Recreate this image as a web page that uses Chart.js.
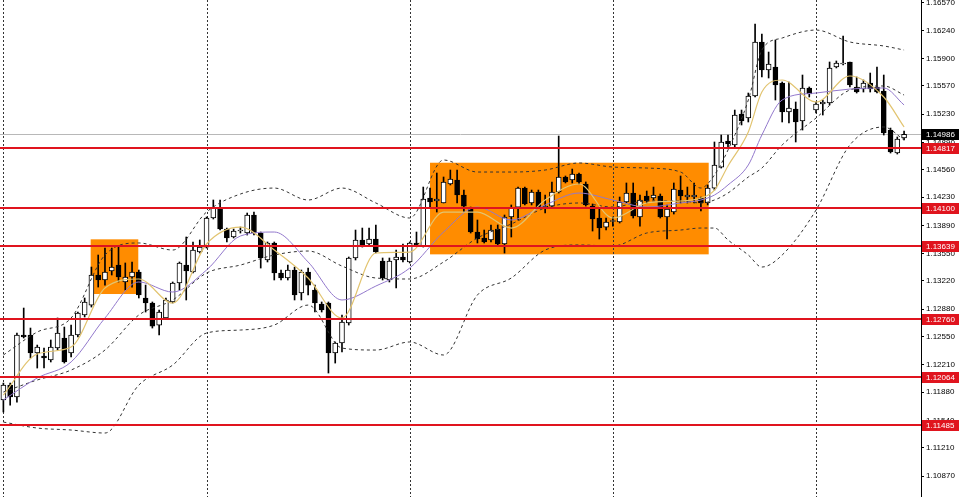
<!DOCTYPE html>
<html>
<head>
<meta charset="utf-8">
<script src="https://cdn.jsdelivr.net/npm/chart.js@4"></script>
<style>
html,body{margin:0;padding:0;background:#fff;}
#wrap{width:960px;height:497px;position:relative;}
</style>
</head>
<body>
<div id="wrap"><canvas id="c"></canvas></div>
<script>
// ---- Candles (H4 bars) ----
const opens = [1.11786,1.11966,1.11822,1.12569,1.12569,1.12352,1.12316,1.12268,1.12412,1.12533,
1.12352,1.12569,1.12810,1.12930,1.13292,1.13232,1.13340,1.13412,1.13208,1.13268,
1.13328,1.13015,1.12955,1.12689,1.12774,1.12967,1.13196,1.13412,1.13328,1.13569,
1.13629,1.13979,1.14099,1.13846,1.13750,1.13822,1.13798,1.14015,1.13798,1.13473,
1.13678,1.13316,1.13256,1.13352,1.13075,1.13328,1.13111,1.12942,1.12955,1.12352,
1.12473,1.12714,1.13497,1.13714,1.13666,1.13726,1.13461,1.13232,1.13473,1.13509,
1.13449,1.13678,1.13641,1.14220,1.14184,1.14160,1.14389,1.14437,1.14256,1.14099,
1.13810,1.13738,1.13714,1.13846,1.13666,1.13991,1.14111,1.14340,1.14160,1.14292,
1.14099,1.14123,1.14292,1.14473,1.14437,1.14509,1.14389,1.14123,1.13979,1.13870,
1.13937,1.13931,1.14172,1.14280,1.13991,1.14244,1.14220,1.14244,1.13991,1.14051,
1.14316,1.14232,1.14232,1.14220,1.14160,1.14340,1.14593,1.14907,1.14859,1.15232,
1.15184,1.15449,1.16100,1.15762,1.15799,1.15606,1.15256,1.15292,1.15148,1.15546,
1.15280,1.15353,1.15365,1.15799,1.15835,1.15859,1.15558,1.15533,1.15606,1.15558,
1.15509,1.15039,1.14762,1.14943];
const highs = [1.11990,1.11990,1.12593,1.12894,1.12653,1.12448,1.12412,1.12509,1.12774,1.12665,
1.12689,1.12846,1.13015,1.13388,1.13533,1.13617,1.13617,1.13629,1.13437,1.13449,
1.13352,1.13171,1.12967,1.12870,1.13015,1.13208,1.13449,1.13750,1.13690,1.13714,
1.13991,1.14196,1.14196,1.13858,1.13846,1.13870,1.14039,1.14051,1.13810,1.13690,
1.13690,1.13352,1.13412,1.13388,1.13352,1.13376,1.13171,1.12967,1.12967,1.12485,
1.12810,1.13509,1.13834,1.13858,1.13858,1.13895,1.13497,1.13497,1.13593,1.13666,
1.13690,1.13810,1.14352,1.14340,1.14521,1.14473,1.14557,1.14557,1.14316,1.14111,
1.13955,1.13834,1.13895,1.13895,1.14015,1.14136,1.14352,1.14352,1.14316,1.14316,
1.14256,1.14413,1.14967,1.14485,1.14569,1.14521,1.14413,1.14148,1.14087,1.13979,
1.13991,1.14232,1.14401,1.14401,1.14256,1.14304,1.14352,1.14268,1.14136,1.14401,
1.14485,1.14352,1.14401,1.14232,1.14377,1.14895,1.14979,1.14979,1.15280,1.15280,
1.15485,1.16317,1.16196,1.15979,1.16124,1.15618,1.15618,1.15377,1.15702,1.15558,
1.15377,1.15401,1.15859,1.15871,1.16172,1.15859,1.15678,1.15642,1.15726,1.15799,
1.15702,1.15063,1.14955,1.15027];
const lows = [1.11641,1.11725,1.11761,1.12533,1.12292,1.12171,1.12171,1.12244,1.12388,1.12231,
1.12304,1.12545,1.12786,1.12906,1.13147,1.13171,1.13292,1.13208,1.13111,1.13147,
1.13015,1.12846,1.12653,1.12569,1.12762,1.12955,1.13111,1.12991,1.13316,1.13557,
1.13617,1.13967,1.13834,1.13690,1.13738,1.13798,1.13774,1.13774,1.13376,1.13449,
1.13232,1.13232,1.13232,1.12991,1.12991,1.13051,1.12846,1.12846,1.12111,1.12231,
1.12364,1.12689,1.13473,1.13629,1.13654,1.13557,1.13232,1.13208,1.13135,1.13449,
1.13437,1.13641,1.13629,1.14099,1.14051,1.14160,1.14377,1.14160,1.14051,1.13798,
1.13678,1.13678,1.13690,1.13654,1.13557,1.13750,1.13955,1.14136,1.14136,1.14099,
1.14039,1.14111,1.14280,1.14401,1.14401,1.14389,1.14123,1.13822,1.13726,1.13834,
1.13882,1.13919,1.14160,1.13979,1.13882,1.14160,1.14196,1.13979,1.13726,1.14027,
1.14160,1.14160,1.14160,1.14063,1.14136,1.14316,1.14581,1.14834,1.14834,1.15100,
1.15136,1.15437,1.15678,1.15666,1.15401,1.15136,1.15124,1.14895,1.15039,1.15437,
1.15244,1.15220,1.15341,1.15787,1.15823,1.15558,1.15485,1.15497,1.15497,1.15485,
1.14979,1.14762,1.14750,1.14919];
const closes = [1.11966,1.11822,1.12569,1.12545,1.12352,1.12424,1.12292,1.12424,1.12593,1.12244,
1.12569,1.12834,1.12967,1.13292,1.13232,1.13328,1.13388,1.13268,1.13268,1.13328,
1.13051,1.12955,1.12677,1.12846,1.12991,1.13196,1.13437,1.13340,1.13593,1.13629,
1.13979,1.14099,1.13846,1.13738,1.13822,1.13834,1.14015,1.13798,1.13497,1.13678,
1.13316,1.13256,1.13352,1.13051,1.13328,1.13171,1.12955,1.12870,1.12352,1.12473,
1.12726,1.13497,1.13714,1.13654,1.13726,1.13569,1.13256,1.13461,1.13509,1.13473,
1.13678,1.13654,1.14208,1.14172,1.14208,1.14413,1.14449,1.14256,1.14123,1.13810,
1.13726,1.13690,1.13834,1.13666,1.13991,1.14099,1.14340,1.14148,1.14292,1.14111,
1.14123,1.14292,1.14473,1.14413,1.14509,1.14413,1.14136,1.13967,1.13858,1.13931,
1.13949,1.14172,1.14280,1.14003,1.14196,1.14184,1.14256,1.13991,1.14087,1.14328,
1.14244,1.14256,1.14256,1.14160,1.14340,1.14618,1.14895,1.14871,1.15220,1.15148,
1.15449,1.16100,1.15762,1.15835,1.15582,1.15256,1.15304,1.15136,1.15546,1.15473,
1.15353,1.15377,1.15787,1.15847,1.15847,1.15582,1.15497,1.15606,1.15533,1.15497,
1.15003,1.14774,1.14931,1.14986];

// ---- Indicator lines, read at these bar indices ----
const sampleIdx = [0,5,10,15,20,25,30,35,40,45,50,55,60,65,70,75,80,85,90,95,100,103,105,107,110,112,115,120,125,130,133];
const bbUpper  = [1.12328,1.12605,1.12774,1.13533,1.13678,1.13593,1.14051,1.14268,1.14340,1.14196,1.14340,1.14160,1.13979,1.14678,1.14533,1.14533,1.14557,1.14642,1.14593,1.14581,1.14533,1.14340,1.14497,1.14798,1.15401,1.16003,1.16148,1.16244,1.16100,1.16052,1.16003];
const bbMiddle = [1.11882,1.12027,1.12147,1.12388,1.12810,1.12991,1.13316,1.13412,1.13533,1.13581,1.13400,1.13256,1.13244,1.13449,1.13738,1.13907,1.14099,1.14160,1.14111,1.14184,1.14184,1.14160,1.14196,1.14280,1.14473,1.14581,1.14859,1.15184,1.15521,1.15570,1.15461];
const bbLower  = [1.11520,1.11448,1.11424,1.11388,1.11966,1.12207,1.12593,1.12629,1.12689,1.12930,1.12412,1.12388,1.12485,1.12328,1.13051,1.13256,1.13593,1.13654,1.13641,1.13798,1.13834,1.13858,1.13858,1.13714,1.13533,1.13388,1.13533,1.14075,1.14859,1.15076,1.14919];
const maFast   = [1.11846,1.12340,1.12424,1.13135,1.13244,1.12955,1.13666,1.13870,1.13593,1.13256,1.12774,1.13557,1.13569,1.14051,1.14051,1.13858,1.14196,1.14389,1.13979,1.14160,1.14184,1.14220,1.14316,1.14606,1.15015,1.15497,1.15642,1.15377,1.15690,1.15437,1.15076];
const maSlow   = [1.11786,1.12051,1.12244,1.12774,1.13208,1.13087,1.13352,1.13762,1.13810,1.13449,1.12991,1.13159,1.13376,1.13810,1.14111,1.13955,1.14136,1.14280,1.14196,1.14111,1.14160,1.14196,1.14256,1.14377,1.14618,1.14979,1.15401,1.15485,1.15533,1.15546,1.15341];

// ---- Axis / levels / zones ----
const tickLabels = ['1.16570','1.16240','1.15900','1.15570','1.15230','1.14890','1.14560','1.14230','1.13890','1.13550','1.13220','1.12880','1.12550','1.12210','1.11880','1.11540','1.11210','1.10870'];
const levels = [1.14817,1.14100,1.13639,1.12760,1.12064,1.11485];
const currentPrice = 1.14986;
const separatorBars = [0,30,60,90,120];
const zoneStart = [12.89,63.0];
const zoneEnd = [19.92,104.15];
const zoneTop = [1.13722,1.14645];
const zoneBottom = [1.13063,1.13541];
const yMin = 1.10617, yMax = 1.16606;

const N = 136;
const labels = Array.from({length:N},(_,i)=>String(i));
function sparse(vals){
  const a = new Array(N).fill(null);
  sampleIdx.forEach((k,j)=>{a[k]=vals[j];});
  return a;
}
const wickData = lows.map((l,i)=>[l,highs[i]]);
const bodyData = opens.map((o,i)=>[o,closes[i]]);
const bodyColors = opens.map((o,i)=>closes[i]>=o?'#ffffff':'#000000');
const FONT = {family:'"Liberation Sans", Arial, sans-serif', size:8};

const overlay = {
  id:'overlay',
  beforeDatasetsDraw(chart){
    const {ctx, chartArea:a, scales:{x,y}} = chart;
    ctx.save();
    ctx.beginPath(); ctx.rect(a.left,a.top,a.right-a.left,a.bottom-a.top); ctx.clip();
    ctx.fillStyle = '#ff8c00';
    for(let i=0;i<zoneStart.length;i++){
      const x1=x.getPixelForValue(zoneStart[i]), x2=x.getPixelForValue(zoneEnd[i]);
      const y1=y.getPixelForValue(zoneTop[i]), y2=y.getPixelForValue(zoneBottom[i]);
      ctx.fillRect(x1,y1,x2-x1,y2-y1);
    }
    ctx.strokeStyle = '#333'; ctx.lineWidth = 1; ctx.setLineDash([2,2]);
    separatorBars.forEach(b=>{
      const px = Math.round(x.getPixelForValue(b))+0.5;
      ctx.beginPath(); ctx.moveTo(px,a.top); ctx.lineTo(px,a.bottom); ctx.stroke();
    });
    ctx.setLineDash([]);
    ctx.strokeStyle = '#b8b8b8';
    const py = Math.round(y.getPixelForValue(currentPrice))+0.5;
    ctx.beginPath(); ctx.moveTo(a.left,py); ctx.lineTo(a.right,py); ctx.stroke();
    ctx.restore();
  },
  afterDatasetsDraw(chart){
    const {ctx, chartArea:a, scales:{y}} = chart;
    ctx.save();
    ctx.strokeStyle = '#e0141e'; ctx.lineWidth = 2;
    levels.forEach(v=>{
      const py = Math.round(y.getPixelForValue(v));
      ctx.beginPath(); ctx.moveTo(a.left,py); ctx.lineTo(a.right,py); ctx.stroke();
    });
    ctx.restore();
  },
  afterDraw(chart){
    const {ctx, chartArea:a, scales:{y}} = chart;
    ctx.save();
    ctx.font = '8px "Liberation Sans", Arial, sans-serif';
    ctx.textBaseline = 'middle'; ctx.textAlign = 'left';
    const box = (v,bg)=>{
      const py = Math.round(y.getPixelForValue(v));
      ctx.fillStyle = bg; ctx.fillRect(a.right+1, py-5, 37, 11);
      ctx.fillStyle = '#ffffff'; ctx.fillText(v.toFixed(5), a.right+5, py+0.5);
    };
    box(currentPrice,'#000000');
    levels.forEach(v=>box(v,'#e0141e'));
    ctx.restore();
  }
};

new Chart(document.getElementById('c'), {
  type:'bar',
  data:{
    labels,
    datasets:[
      {type:'bar', data:wickData, backgroundColor:'#000', barThickness:1, grouped:false, order:5},
      {type:'bar', data:bodyData, backgroundColor:bodyColors, borderColor:'#000', borderWidth:1, borderSkipped:false, barThickness:5, grouped:false, order:4},
      {type:'line', data:sparse(bbUpper), borderColor:'#333', borderWidth:1, borderDash:[3,3], pointRadius:0, spanGaps:true, cubicInterpolationMode:'monotone', order:3},
      {type:'line', data:sparse(bbMiddle), borderColor:'#333', borderWidth:1, borderDash:[3,3], pointRadius:0, spanGaps:true, cubicInterpolationMode:'monotone', order:3},
      {type:'line', data:sparse(bbLower), borderColor:'#333', borderWidth:1, borderDash:[3,3], pointRadius:0, spanGaps:true, cubicInterpolationMode:'monotone', order:3},
      {type:'line', data:sparse(maSlow), borderColor:'#9278cc', borderWidth:1, pointRadius:0, spanGaps:true, cubicInterpolationMode:'monotone', order:2},
      {type:'line', data:sparse(maFast), borderColor:'#e2c470', borderWidth:1.2, pointRadius:0, spanGaps:true, cubicInterpolationMode:'monotone', order:1}
    ]
  },
  options:{
    responsive:true, maintainAspectRatio:false, animation:false,
    layout:{padding:0},
    plugins:{legend:{display:false}, tooltip:{enabled:false}},
    scales:{
      x:{display:false, offset:true, grid:{display:false}},
      y:{
        position:'right', min:yMin, max:yMax,
        afterBuildTicks(s){ s.ticks = tickLabels.map(t=>({value:parseFloat(t)})); },
        afterFit(s){ s.width = 39; s.paddingTop = 0; s.paddingBottom = 0; },
        ticks:{color:'#000', font:FONT, padding:2, autoSkip:false, callback:(v)=>Number(v).toFixed(5)},
        grid:{drawOnChartArea:false, drawTicks:true, tickLength:3, color:'#000'},
        border:{display:true, color:'#000', width:1}
      }
    }
  },
  plugins:[overlay]
});
</script>
</body>
</html>
